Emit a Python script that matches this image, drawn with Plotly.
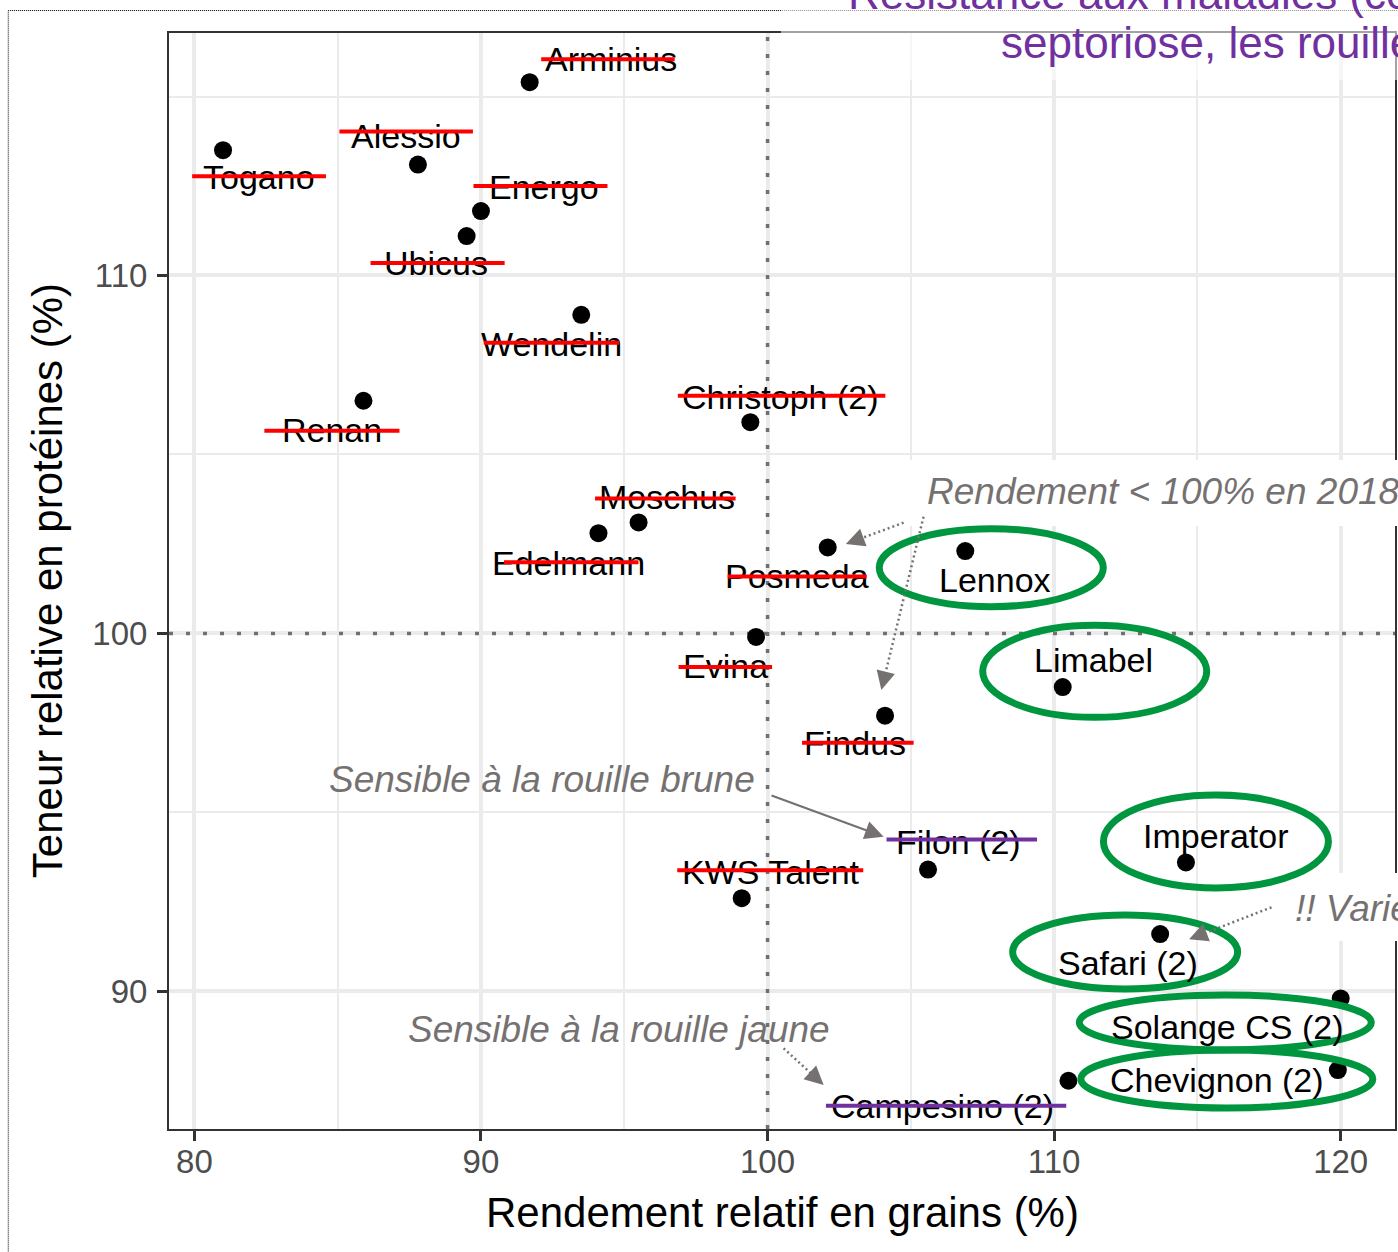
import math
import plotly.graph_objects as go

# ---------------- data ----------------
varietes = ["Arminius", "Togano", "Alessio", "Energo", "Ubicus", "Wendelin", "Renan",
            "Christoph (2)", "Moschus", "Edelmann", "Posmeda", "Lennox", "Evina",
            "Limabel", "Findus", "Filon (2)", "Imperator", "KWS Talent", "Safari (2)",
            "Solange CS (2)", "Chevignon (2)", "Campesino (2)"]
rendement = [91.7, 81.0, 87.8, 90.0, 89.5, 93.5, 85.9, 99.4, 95.5, 94.1, 102.1, 106.9,
             99.6, 110.3, 104.1, 105.6, 114.6, 99.1, 113.7, 120.0, 119.9, 110.5]
proteines = [115.4, 113.5, 113.1, 111.8, 111.1, 108.9, 106.5, 105.9, 103.1, 102.8, 102.4,
             102.3, 99.9, 98.5, 97.7, 93.4, 93.6, 92.6, 91.6, 89.8, 87.8, 87.5]
# "rouge" = barrée en rouge, "violet" = barrée en violet, "vert" = entourée en vert
statut = ["rouge", "rouge", "rouge", "rouge", "rouge", "rouge", "rouge", "rouge", "rouge",
          "rouge", "rouge", "vert", "rouge", "vert", "rouge", "violet", "vert", "rouge",
          "vert", "vert", "vert", "violet"]
x_ticks = [80, 90, 100, 110, 120]
y_ticks = [90, 100, 110]
reference = 100

# ---------------- layout geometry ----------------
FIG_W, FIG_H = 1398, 1252
M_L, M_R, M_T, M_B = 169, 1, 33, 123
PW = FIG_W - M_L - M_R
PH = FIG_H - M_T - M_B
X_RANGE = [79.114, 121.895]
Y_RANGE = [86.152, 116.775]


def pxp(x):
    return (x - M_L) / PW


def pyp(y):
    return (M_T + PH - y) / PH


FONT = "Liberation Sans, Arial, Helvetica, sans-serif"
GRAY_NOTE = "#767171"
RED = "#FF0000"
PURPLE = "#7030A0"
GREEN = "#00963F"

# label placement relative to each point (screen pixels, +dy = downward)
label_pos = {
    "Arminius": (81.5, -23), "Togano": (36, 27), "Alessio": (-12, -29), "Energo": (63, -24),
    "Ubicus": (-31, 27), "Wendelin": (-30, 29), "Renan": (-31, 29), "Christoph (2)": (30, -25),
    "Moschus": (28, -25), "Edelmann": (-30, 30), "Posmeda": (-31, 29), "Lennox": (30, 29),
    "Evina": (-31, 29), "Limabel": (30.6, -27), "Findus": (-30, 27), "Filon (2)": (30, -27.5),
    "Imperator": (30, -26), "KWS Talent": (29, -26), "Safari (2)": (-32, 29),
    "Solange CS (2)": (-113.6, 28.5), "Chevignon (2)": (-121, 10), "Campesino (2)": (-126, 25.3),
}
# strike-through line (x0, x1, dy) in pixels relative to the point
strike_pos = {
    "Arminius": (10, 145, -23), "Togano": (-32.4, 102.9, 26), "Alessio": (-80, 55, -33),
    "Energo": (-9, 126.5, -25), "Ubicus": (-97.6, 38, 27), "Wendelin": (-99, 38, 28),
    "Renan": (-100.6, 36, 30), "Christoph (2)": (-74, 135, -26.5), "Moschus": (-45, 97, -24),
    "Edelmann": (-96, 40, 29), "Posmeda": (-101.5, 39, 29), "Evina": (-79, 16, 30),
    "Findus": (-84.5, 28.6, 27), "Filon (2)": (-43, 109, -30), "KWS Talent": (-66, 121.5, -28),
    "Campesino (2)": (-244, -2.2, 25),
}
# ellipse (dx, dy, rx, ry) in pixels relative to the point
ellipse_pos = {
    "Lennox": (26, 16.6, 112, 39), "Limabel": (32, -15.7, 112, 46),
    "Imperator": (30, -21, 112.5, 46.5), "Safari (2)": (-35, 18, 112.5, 37),
    "Solange CS (2)": (-115.4, 24, 146, 27.5), "Chevignon (2)": (-111, 9, 146, 29),
}

fig = go.Figure()

# dotted reference lines at 100 % (drawn as traces: above the grid, below the points)
ref_line = dict(color="#707070", width=3.5, dash="4px,13px")
fig.add_trace(go.Scatter(x=[reference, reference], y=Y_RANGE, mode="lines", line=ref_line,
                         hoverinfo="skip", showlegend=False))
fig.add_trace(go.Scatter(x=X_RANGE, y=[reference, reference], mode="lines", line=ref_line,
                         hoverinfo="skip", showlegend=False))

fig.add_trace(go.Scatter(
    x=rendement, y=proteines, mode="markers", text=varietes, hoverinfo="text",
    marker=dict(color="black", size=18, line=dict(width=0)), showlegend=False))

shapes = []
annotations = []

# outer dotted frame of the slide placeholder
shapes.append(dict(type="rect", xref="paper", yref="paper", x0=pxp(8), x1=pxp(1430),
                   y0=pyp(1290), y1=pyp(10.5), line=dict(color="black", width=1, dash="1px,1px"),
                   fillcolor="rgba(0,0,0,0)", layer="above"))
# semi-transparent box behind the title
shapes.append(dict(type="rect", xref="paper", yref="paper", x0=pxp(782), x1=pxp(1430),
                   y0=pyp(80), y1=pyp(-30), line=dict(width=0),
                   fillcolor="rgba(255,255,255,0.55)", layer="above"))
# opaque boxes behind the notes
shapes.append(dict(type="rect", xref="paper", yref="paper", x0=pxp(902), x1=pxp(1430),
                   y0=pyp(526), y1=pyp(460), line=dict(width=0), fillcolor="white", layer="above"))
shapes.append(dict(type="rect", xref="paper", yref="paper", x0=pxp(1268), x1=pxp(1430),
                   y0=pyp(941), y1=pyp(873), line=dict(width=0), fillcolor="white", layer="above"))

# variety labels
for name, xv, yv in zip(varietes, rendement, proteines):
    dx, dy = label_pos[name]
    annotations.append(dict(x=xv, y=yv, xref="x", yref="y", text=name, showarrow=False,
                            xshift=dx, yshift=-dy, xanchor="center", yanchor="middle",
                            font=dict(family=FONT, size=34, color="black")))

# strike-through lines and green ellipses
for name, xv, yv, st in zip(varietes, rendement, proteines, statut):
    if st in ("rouge", "violet"):
        x0, x1, dy = strike_pos[name]
        annotations.append(dict(x=xv, y=yv, xref="x", yref="y", text="", showarrow=True,
                                xshift=x1, yshift=-dy, axref="pixel", ayref="pixel",
                                ax=x0 - x1, ay=0, arrowhead=0, arrowwidth=4,
                                arrowcolor=RED if st == "rouge" else PURPLE,
                                standoff=0, startstandoff=0))
    else:
        dx, dy, rx, ry = ellipse_pos[name]
        shapes.append(dict(type="circle", xref="x", yref="y", xsizemode="pixel",
                           ysizemode="pixel", xanchor=xv, yanchor=yv,
                           x0=dx - rx, x1=dx + rx, y0=-dy - ry, y1=-dy + ry,
                           line=dict(color=GREEN, width=7), fillcolor="rgba(0,0,0,0)",
                           layer="above"))

# grey notes
notes = [
    ("<i>Sensible à la rouille brune</i>", 543, 779, "center"),
    ("<i>Sensible à la rouille jaune</i>", 619.5, 1029, "center"),
    ("<i>Rendement &lt; 100% en 2018</i>", 926, 491.5, "left"),
    ("<i>!! Variété</i>", 1295, 908, "left"),
]
for txt, xpx, ypx, anc in notes:
    annotations.append(dict(x=pxp(xpx), y=pyp(ypx), xref="paper", yref="paper", text=txt,
                            showarrow=False, xanchor=anc, yanchor="middle",
                            font=dict(family=FONT, size=37, color=GRAY_NOTE)))

# solid arrow (rouille brune -> Filon)
annotations.append(dict(x=pxp(884.8), y=pyp(836.7), xref="paper", yref="paper", text="",
                        showarrow=True, axref="pixel", ayref="pixel", ax=771.2 - 884.8,
                        ay=795 - 836.7, arrowhead=2, arrowsize=1.7, arrowwidth=2.2,
                        arrowcolor=GRAY_NOTE, standoff=0, startstandoff=0))
# dotted arrows
dotted = [((904.8, 522.7), (846.9, 544)), ((924.8, 516.7), (882.5, 690)),
          ((784.6, 1048.3), (824.7, 1085)), ((1273.3, 907.3), (1190.7, 939.3))]
for (tx, ty), (hx, hy) in dotted:
    L = math.hypot(tx - hx, ty - hy)
    ux, uy = (tx - hx) / L, (ty - hy) / L
    shapes.append(dict(type="line", xref="paper", yref="paper", x0=pxp(tx), y0=pyp(ty),
                       x1=pxp(hx + ux * 12), y1=pyp(hy + uy * 12),
                       line=dict(color=GRAY_NOTE, width=2.5, dash="2px,3px"), layer="above"))
    annotations.append(dict(x=pxp(hx), y=pyp(hy), xref="paper", yref="paper", text="",
                            showarrow=True, axref="pixel", ayref="pixel", ax=ux * 16, ay=uy * 16,
                            arrowhead=2, arrowsize=1.7, arrowwidth=2.2, arrowcolor=GRAY_NOTE,
                            standoff=0, startstandoff=0))

# title (partially outside the picture, as in the slide)
annotations.append(dict(x=pxp(847), y=pyp(-6.5), xref="paper", yref="paper",
                        text="Résistance aux maladies (comprenant", showarrow=False,
                        xanchor="left", yanchor="middle",
                        font=dict(family=FONT, size=44, color=PURPLE)))
annotations.append(dict(x=pxp(1000), y=pyp(43), xref="paper", yref="paper",
                        text="septoriose, les rouilles", showarrow=False,
                        xanchor="left", yanchor="middle",
                        font=dict(family=FONT, size=44, color=PURPLE)))

# axis titles
annotations.append(dict(x=pxp(47), y=pyp(581), xref="paper", yref="paper",
                        text="Teneur relative en protéines (%)", showarrow=False, textangle=-90,
                        xanchor="center", yanchor="middle",
                        font=dict(family=FONT, size=42, color="black")))
annotations.append(dict(x=pxp(784), y=pyp(1212), xref="paper", yref="paper",
                        text="Rendement relatif en grains (%)", showarrow=False,
                        xanchor="center", yanchor="middle",
                        font=dict(family=FONT, size=42, color="black")))

axis_common = dict(
    showgrid=True, gridcolor="#EBEBEB", gridwidth=3.5, zeroline=False,
    ticks="outside", ticklen=10, tickwidth=3, tickcolor="#333333",
    showline=True, linecolor="#333333", linewidth=2, mirror=True,
    tickfont=dict(family=FONT, size=33, color="#4D4D4D"),
    minor=dict(dtick=5, showgrid=True, gridcolor="#EBEBEB", gridwidth=2, ticks=""),
)

fig.update_layout(
    width=FIG_W, height=FIG_H, autosize=False,
    margin=dict(l=M_L, r=M_R, t=M_T, b=M_B, pad=0),
    paper_bgcolor="white", plot_bgcolor="white",
    xaxis=dict(range=X_RANGE, tickvals=x_ticks, ticklabelstandoff=-8, **axis_common),
    yaxis=dict(range=Y_RANGE, tickvals=y_ticks, ticklabelstandoff=3, **axis_common),
    shapes=shapes, annotations=annotations, showlegend=False,
    font=dict(family=FONT),
)

fig.write_html("out.html", config={"displayModeBar": False},
               post_script="document.body.style.margin='0';document.body.style.overflow='hidden';")
